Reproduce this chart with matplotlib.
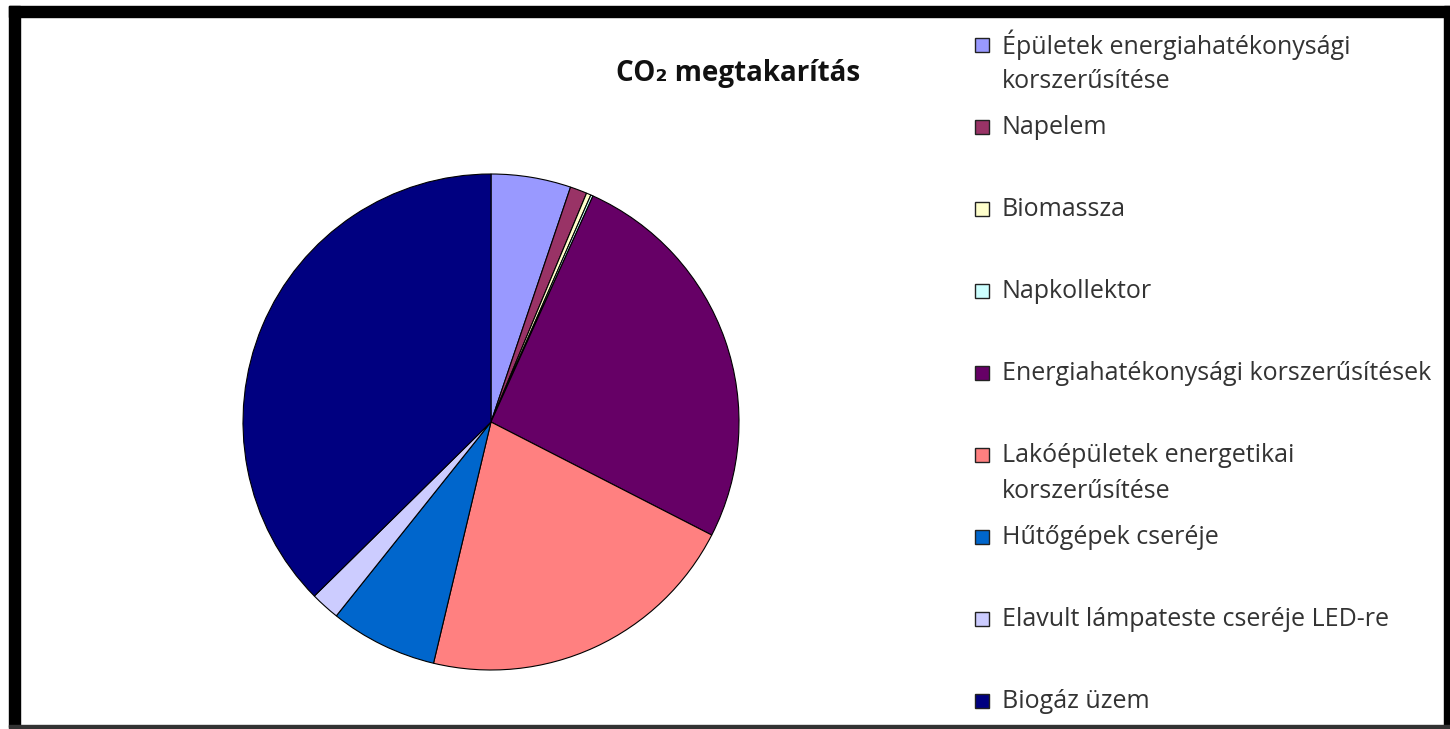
import matplotlib
matplotlib.use('Agg')
from matplotlib import pyplot as plt
from matplotlib.patches import Rectangle

plt.rcParams['font.family'] = ['Open Sans', 'DejaVu Sans']

# adatok (%)
categories = ['Épületek energiahatékonysági\nkorszerűsítése',
              'Napelem',
              'Biomassza',
              'Napkollektor',
              'Energiahatékonysági korszerűsítések',
              'Lakóépületek energetikai\nkorszerűsítése',
              'Hűtőgépek cseréje',
              'Elavult lámpateste cseréje LED-re',
              'Biogáz üzem']
values = [5.2, 1.1, 0.3, 0.15, 25.8, 21.2, 7.0, 1.9, 37.4]
colors = ['#9999FF', '#993366', '#FFFFCC', '#CCFFFF', '#660066',
          '#FF8080', '#0066CC', '#CCCCFF', '#000080']
title = 'CO₂ megtakarítás'

W, H = 1450, 729
fig = plt.figure(figsize=(W / 100, H / 100), dpi=100)
fig.patch.set_facecolor('white')


def fx(x):
    return x / W


def fy(y):
    return 1 - y / H


# keret
for x0, y0, x1, y1, c in [(9, 6, 20, 727, 'black'),
                          (9, 6, 1450, 17, 'black'),
                          (1444, 6, 1450, 729, 'black'),
                          (9, 725, 1450, 729, '#333333')]:
    fig.patches.append(Rectangle((fx(x0), fy(y1)), fx(x1) - fx(x0), fy(y0) - fy(y1),
                                 transform=fig.transFigure, color=c, zorder=0))

# kördiagram
cx, cy, r = 491, 422, 248
ax = fig.add_axes([fx(cx - r), fy(cy + r), 2 * r / W, 2 * r / H])
ax.pie(values, colors=colors, startangle=90, counterclock=False,
       wedgeprops=dict(edgecolor='black', linewidth=0.8))
ax.set_xlim(-1, 1)
ax.set_ylim(-1, 1)
ax.set_aspect('equal')
ax.axis('off')

fig.text(fx(738), fy(73), title, ha='center', va='center',
         fontsize=20, fontweight='bold', color='#111111')

# jelmagyarázat
y_first, step, line_h = 45, 82, 36
for i, (lab, col) in enumerate(zip(categories, colors)):
    y = y_first + i * step
    fig.patches.append(Rectangle((fx(975), fy(y + 7)), 14 / W, 14 / H,
                                 transform=fig.transFigure, facecolor=col,
                                 edgecolor='#222222', linewidth=1))
    for k, line in enumerate(lab.split('\n')):
        fig.text(fx(1002), fy(y + k * line_h), line, ha='left', va='center',
                 fontsize=18, color='#333333')

fig.savefig('out.png', dpi=100)
